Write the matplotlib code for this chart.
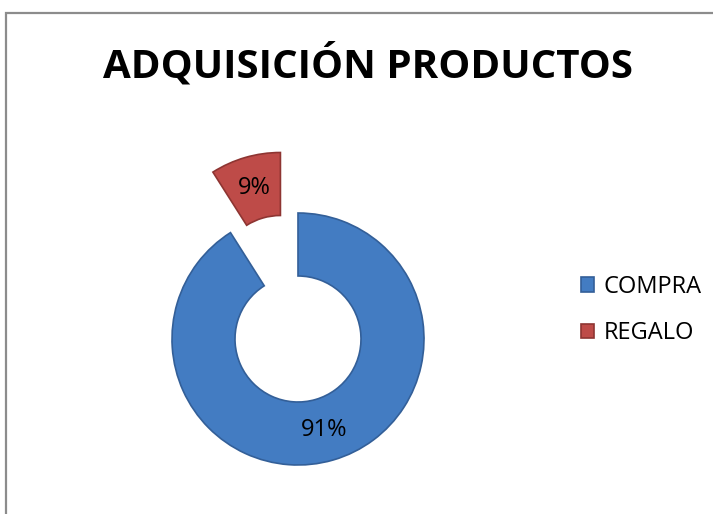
import matplotlib
matplotlib.use("Agg")
import matplotlib.pyplot as plt
from matplotlib.patches import Rectangle

categories = ["COMPRA", "REGALO"]
values = [91, 9]
title = "ADQUISICIÓN PRODUCTOS"

W, H = 713, 514
fig = plt.figure(figsize=(W / 100, H / 100), dpi=100)
plt.rcParams['font.family'] = ['Open Sans', 'DejaVu Sans']

# border
fig.patches.append(Rectangle((6 / W, -0.1), 1.2, 1 - 13 / H + 0.1, transform=fig.transFigure,
                             fill=False, edgecolor="#8c8c8c", linewidth=1.6))

R = 126.0
cx, cy = 298, 339
axl, axr = 140, 150
axt, axb = 210, 150
ax = fig.add_axes([(cx - axl) / W, (H - cy - axb) / H, (axl + axr) / W, (axt + axb) / H])

colors = ["#437CC2", "#BE4B48"]
edges = ["#335F98", "#8E3532"]
wedges, texts, autotexts = ax.pie(values, colors=colors, startangle=90, counterclock=False,
                                  explode=[0, 0.5], autopct='%1.0f%%', pctdistance=0.75,
                                  wedgeprops=dict(width=0.5, linewidth=1.2),
                                  textprops=dict(fontsize=17, color="black"))
for w, e in zip(wedges, edges):
    w.set_edgecolor(e)
ax.set_xlim(-axl / R, axr / R)
ax.set_ylim(-axb / R, axt / R)
ax.set_aspect('auto')
ax.axis('off')

fig.text(368 / W, 1 - 78 / H, title, ha='center', va='baseline', fontsize=29,
         fontweight='bold', color='black')

leg = fig.legend(wedges, categories, loc='center left', bbox_to_anchor=(572 / W, 1 - 310 / H),
                 frameon=False, fontsize=17, handlelength=0.55, handleheight=0.55,
                 handletextpad=0.4, labelspacing=0.95, borderaxespad=0)

fig.savefig("out.png", dpi=100)
